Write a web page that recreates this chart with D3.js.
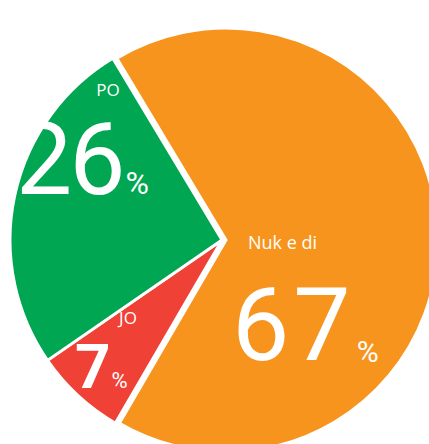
<!DOCTYPE html>
<html>
<head>
<meta charset="utf-8">
<script src="https://cdn.jsdelivr.net/npm/d3@7"></script>
<style>
  html, body { margin: 0; padding: 0; background: #ffffff; overflow: hidden; }
  text { fill: #ffffff; }
  .name { font-family: "Open Sans", "Noto Sans", sans-serif; }
  .num { font-family: Roboto, "Open Sans", sans-serif; }
</style>
</head>
<body>
<svg id="chart" width="429" height="444"></svg>
<script>
// Survey answers, drawn clockwise from the orange slice
const categories = ["Nuk e di", "JO", "PO"];
const values = [67, 7, 26];
const colors = ["#F7941D", "#EF4136", "#00A651"];

const svg = d3.select("#chart");
const cx = 222, cy = 240, R = 212;
const startDeg = -31;
const toRad = d => d * Math.PI / 180;

const data = categories.map((c, i) => ({ name: c, value: values[i], color: colors[i] }));
const pie = d3.pie()
  .sort(null)
  .value(d => d.value)
  .startAngle(toRad(startDeg))
  .endAngle(toRad(startDeg) + 2 * Math.PI);
const arcs = pie(data);
const arc = d3.arc().innerRadius(0).outerRadius(R);

// the largest slice is pulled slightly away from the others
const explode = { "Nuk e di": 4, "JO": 0, "PO": 0 };

const g = svg.append("g").attr("transform", `translate(${cx},${cy})`);
g.selectAll("path.slice")
  .data(arcs)
  .join("path")
  .attr("class", "slice")
  .attr("d", arc)
  .attr("fill", d => d.data.color)
  .attr("stroke", "#ffffff")
  .attr("stroke-width", 3)
  .attr("stroke-linejoin", "round")
  .attr("transform", d => {
    const a = (d.startAngle + d.endAngle) / 2;
    const e = explode[d.data.name];
    return `translate(${Math.sin(a) * e},${-Math.cos(a) * e})`;
  });

// label placement for each slice: category name, big number with a small percent sign
const labelLayout = {
  "PO":       { nx: 108, ny: 96,  ns: 17, anchor: "middle", x: 16,  y: 194, size: 100, weight: 400, ls: -3, ps: 32, pdx: 3, pdy: 0 },
  "Nuk e di": { nx: 248, ny: 249, ns: 18, anchor: "start",  x: 232, y: 360, size: 102, weight: 400, ls: 4,  ps: 30, pdx: 2, pdy: 2 },
  "JO":       { nx: 128, ny: 324, ns: 17, anchor: "middle", x: 75,  y: 388, size: 62,  weight: 700, ls: 0,  ps: 22, pdx: 1, pdy: 0 }
};

const labels = svg.append("g");
arcs.forEach(d => {
  const L = labelLayout[d.data.name];
  labels.append("text")
    .attr("class", "name")
    .attr("x", L.nx).attr("y", L.ny)
    .attr("font-size", L.ns)
    .attr("text-anchor", L.anchor)
    .text(d.data.name);
  const num = labels.append("text")
    .attr("class", "num")
    .attr("x", L.x).attr("y", L.y)
    .attr("font-size", L.size)
    .attr("font-weight", L.weight);
  num.append("tspan")
    .attr("letter-spacing", L.ls)
    .text(d.data.value);
  num.append("tspan")
    .attr("dx", L.pdx).attr("dy", L.pdy)
    .attr("font-size", L.ps)
    .attr("font-weight", 400)
    .text("%");
});
</script>
</body>
</html>
